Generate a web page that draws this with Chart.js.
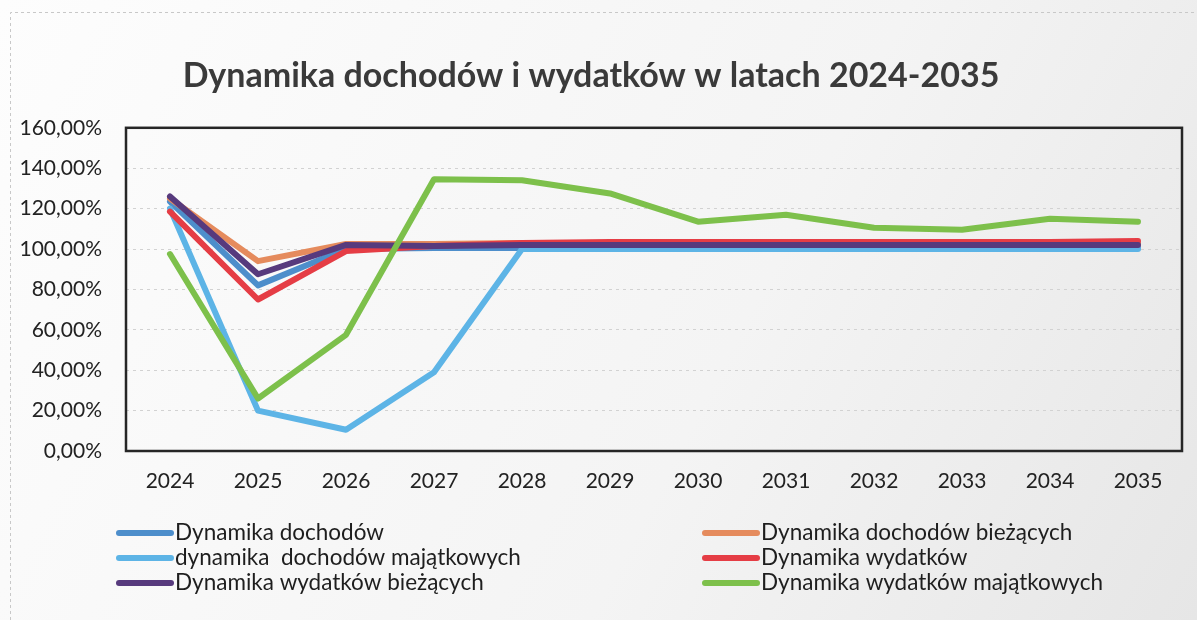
<!DOCTYPE html>
<html lang="pl">
<head>
<meta charset="utf-8">
<title>Dynamika dochodów i wydatków</title>
<script src="https://cdn.jsdelivr.net/npm/chart.js@4"></script>
<style>
  html, body { margin: 0; padding: 0; background: #f6f6f6; }
  #wrap { width: 1197px; height: 620px; }
</style>
</head>
<body>
<div id="wrap"><canvas id="lineChart" width="1197" height="620"></canvas></div>
<script>
// lata (oś X)
const years = ['2024', '2025', '2026', '2027', '2028', '2029', '2030', '2031', '2032', '2033', '2034', '2035'];

// nazwy serii
const seriesNames = [
    'Dynamika dochodów',
    'Dynamika dochodów bieżących',
    'dynamika  dochodów majątkowych',
    'Dynamika wydatków',
    'Dynamika wydatków bieżących',
    'Dynamika wydatków majątkowych'
];

// wartości w %
const dochody = [123.5, 82, 100, 100.5, 100.5, 100.5, 100.5, 100.5, 100.5, 100.5, 100.5, 100.5];
const dochodyBiezace = [125, 94, 102.5, 102.5, 103, 103, 103, 103, 103, 103, 103, 103];
const dochodyMajatkowe = [120, 20, 10.5, 39, 100, 100, 100, 100, 100, 100, 100, 100];
const wydatki = [118.5, 75, 99, 101.5, 103, 103.5, 103.5, 103.5, 103.5, 103.5, 103.5, 104];
const wydatkiBiezace = [126, 87.5, 102, 101.5, 102, 102, 102, 102, 102, 102, 102, 102];
const wydatkiMajatkowe = [97.5, 26, 57.5, 134.5, 134, 127.5, 113.5, 117, 110.5, 109.5, 115, 113.5];

// podziałka osi Y
const yTicks = [0, 20, 40, 60, 80, 100, 120, 140, 160];

const colors = ['#4d8ecb', '#e58b5d', '#5db4e6', '#e53d45', '#573a7d', '#7dc04b'];
const allValues = [dochody, dochodyBiezace, dochodyMajatkowe, wydatki, wydatkiBiezace, wydatkiMajatkowe];

const fontFamily = 'Lato, "Open Sans", sans-serif';

// tło, ramka obszaru wykresu i legenda w dwóch kolumnach
const framePlugin = {
    id: 'frame',
    beforeDraw(chart) {
        const ctx = chart.ctx;
        const g = ctx.createLinearGradient(0, 0, chart.width, chart.height);
        g.addColorStop(0, '#fdfdfd');
        g.addColorStop(0.6, '#f4f4f4');
        g.addColorStop(1, '#e6e6e6');
        ctx.save();
        ctx.fillStyle = g;
        ctx.fillRect(0, 0, chart.width, chart.height);
        // przerywana ramka zeskanowanego wykresu
        ctx.strokeStyle = '#c8c8c8';
        ctx.lineWidth = 1;
        ctx.setLineDash([3, 3]);
        ctx.beginPath();
        ctx.moveTo(10.5, 620);
        ctx.lineTo(10.5, 12.5);
        ctx.lineTo(1197, 12.5);
        ctx.stroke();
        ctx.restore();
    },
    afterDraw(chart) {
        const ctx = chart.ctx;
        const a = chart.chartArea;
        ctx.save();
        ctx.strokeStyle = '#262626';
        ctx.lineWidth = 2.5;
        ctx.strokeRect(a.left, a.top, a.right - a.left, a.bottom - a.top);

        // legenda
        ctx.font = '22.5px ' + fontFamily;
        ctx.textBaseline = 'middle';
        ctx.fillStyle = '#1e1e1e';
        chart.data.datasets.forEach((ds, i) => {
            const x = i % 2 === 0 ? 119 : 705;
            const y = 533 + Math.floor(i / 2) * 25;
            ctx.strokeStyle = ds.borderColor;
            ctx.lineWidth = 6;
            ctx.lineCap = 'round';
            ctx.beginPath();
            ctx.moveTo(x, y);
            ctx.lineTo(x + 52, y);
            ctx.stroke();
            ctx.fillText(ds.label, x + 56, y);
        });
        ctx.restore();
    }
};

function renderChart() {
    const ctx = document.getElementById('lineChart').getContext('2d');
    new Chart(ctx, {
        type: 'line',
        data: {
            labels: years,
            datasets: seriesNames.map((name, i) => ({
                label: name,
                data: allValues[i],
                borderColor: colors[i],
                backgroundColor: colors[i],
                borderWidth: 6,
                borderCapStyle: 'round',
                borderJoinStyle: 'round',
                pointRadius: 0,
                tension: 0,
                order: seriesNames.length - 1 - i
            }))
        },
        options: {
            responsive: false,
            animation: false,
            layout: { padding: { left: 0, right: 15, top: 0, bottom: 128 } },
            plugins: {
                legend: { display: false },
                tooltip: { enabled: false },
                title: {
                    display: true,
                    text: 'Dynamika dochodów i wydatków w latach 2024-2035',
                    color: '#3a3a3a',
                    font: { family: fontFamily, size: 34, weight: 'bold' },
                    padding: { top: 56, bottom: 31 }
                }
            },
            scales: {
                x: {
                    offset: true,
                    grid: { display: false, drawTicks: false },
                    border: { display: false },
                    ticks: {
                        color: '#222',
                        font: { family: fontFamily, size: 21 },
                        padding: 18,
                        maxRotation: 0
                    },
                    afterFit: s => { s.height = 41; }
                },
                y: {
                    min: 0,
                    max: 160,
                    afterBuildTicks: s => { s.ticks = yTicks.map(v => ({ value: v })); },
                    grid: {
                        color: '#d2d2d2',
                        lineWidth: 1,
                        drawTicks: false
                    },
                    border: { display: false, dash: [3, 4] },
                    ticks: {
                        color: '#222',
                        font: { family: fontFamily, size: 21 },
                        padding: 24,
                        callback: v => v.toFixed(2).replace('.', ',') + '%'
                    },
                    afterFit: s => { s.width = 126; }
                }
            }
        },
        plugins: [framePlugin]
    });
}

renderChart();
</script>
</body>
</html>
